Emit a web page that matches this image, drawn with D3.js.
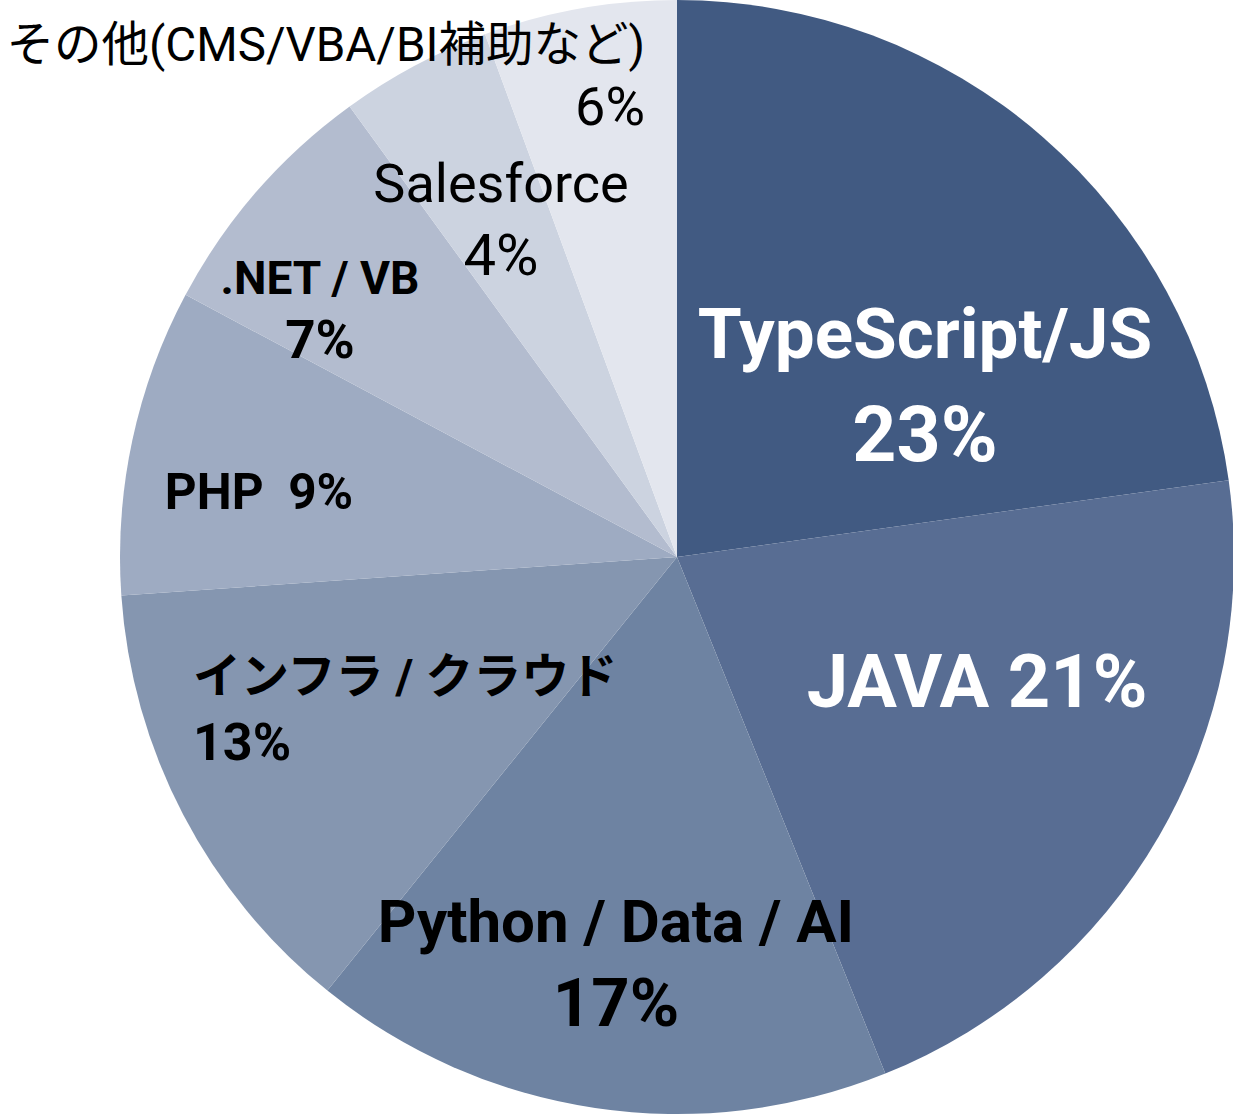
<!DOCTYPE html>
<html><head><meta charset="utf-8">
<script src="https://cdn.jsdelivr.net/npm/d3@7"></script>
<style>html,body{margin:0;padding:0;background:#fff;}svg{display:block;}text{white-space:pre;}</style>
</head><body>
<svg id="chart" width="1233" height="1116"></svg>
<script>
// data
const categories = ["TypeScript/JS", "JAVA", "Python / Data / AI", "インフラ / クラウド", "PHP", ".NET / VB", "Salesforce", "その他(CMS/VBA/BI補助など)"];
const values = [22.8, 21.1, 16.9, 13.1, 8.9, 7.2, 4.4, 5.6];
const pctLabels = ["23%", "21%", "17%", "13%", "9%", "7%", "4%", "6%"];
const colors = ["#415a82", "#586d93", "#6e83a2", "#8596b0", "#9eabc2", "#b3bccf", "#ccd3e0", "#e3e6ee"];

// label layout (positions / styles only)
const labelLayout = [
  {join: false, x: 925, y: [358, 461], size: [71, 77], weight: 700, fill: "#fff", anchor: "middle"},
  {join: " ", x: 977, y: [707], size: [74], weight: 700, fill: "#fff", anchor: "middle"},
  {join: false, x: 616, y: [942, 1026], size: [60, 67], weight: 700, fill: "#000", anchor: "middle"},
  {join: false, x: 193, y: [693, 760], size: [48, 52], weight: 700, fill: "#000", anchor: "start"},
  {join: "  ", x: 259, y: [509], size: [49.5], weight: 700, fill: "#000", anchor: "middle"},
  {join: false, x: 320, y: [294, 358], size: [46, 53], weight: 700, fill: "#000", anchor: "middle"},
  {join: false, x: 501, y: [202, 275], size: [54, 58], weight: 400, fill: "#000", anchor: "middle"},
  {join: false, x: 645, y: [61, 125], size: [47.5, 54], weight: 400, fill: "#000", anchor: "end"}
];

const svg = d3.select("#chart");
const cx = 677, cy = 557, R = 557;
const g = svg.append("g").attr("transform", `translate(${cx},${cy})`);

const data = categories.map((c, i) => ({cat: c, value: values[i], pct: pctLabels[i], color: colors[i]}));
const pie = d3.pie().value(d => d.value).sort(null);
const arc = d3.arc().innerRadius(0).outerRadius(R);
const arcs = pie(data);

g.selectAll("path.slice").data(arcs).enter().append("path")
  .attr("class", "slice")
  .attr("d", arc)
  .attr("fill", d => d.data.color);

const fontFamily = "Roboto, 'Noto Sans CJK JP', sans-serif";
arcs.forEach((a, i) => {
  const L = labelLayout[i];
  const lines = L.join === false ? [a.data.cat, a.data.pct] : [a.data.cat + L.join + a.data.pct];
  lines.forEach((t, j) => {
    svg.append("text")
      .attr("x", L.x).attr("y", L.y[j])
      .attr("text-anchor", L.anchor)
      .attr("font-family", fontFamily)
      .attr("font-weight", L.weight)
      .attr("font-size", L.size[j])
      .attr("fill", L.fill)
      .text(t);
  });
});
</script>
</body></html>
